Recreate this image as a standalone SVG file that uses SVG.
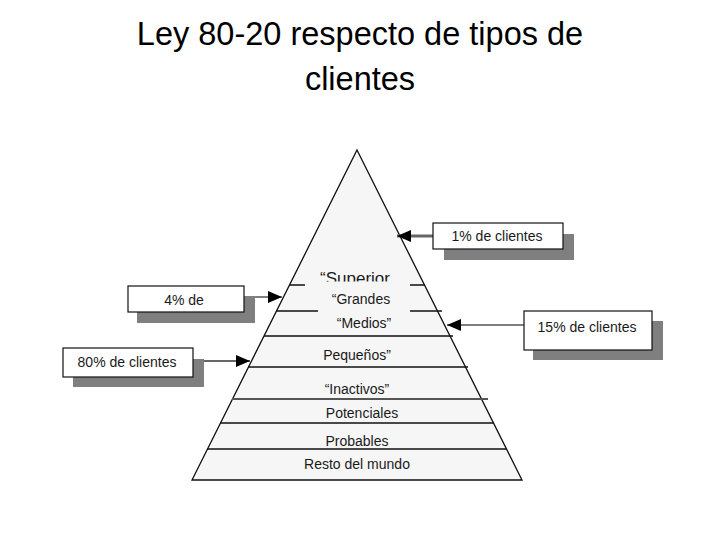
<svg xmlns="http://www.w3.org/2000/svg" width="720" height="540" viewBox="0 0 720 540">
<style>
.title{font-family:"Liberation Sans",Arial,sans-serif;font-size:32.5px;fill:#000;text-anchor:middle}
.lbl{font-family:"Liberation Sans",Arial,sans-serif;font-size:14px;fill:#1a1a1a;text-anchor:middle}
.big{font-size:17px}
.sl{stroke:#111;stroke-width:1.3;fill:none}
.box{fill:#fff;stroke:#111;stroke-width:1.2}
.shd{fill:#7f7f7f}
</style>
<defs>
<marker id="ah" viewBox="0 0 14 12" refX="14" refY="6" markerWidth="14" markerHeight="12" markerUnits="userSpaceOnUse" orient="auto">
<path d="M0,0 L14,6 L0,12 Z" fill="#000"/>
</marker>
<clipPath id="supclip"><rect x="290" y="250" width="140" height="31.5"/></clipPath>
</defs>
<rect width="720" height="540" fill="#fff"/>
<g id="title">
<text class="title" x="360" y="45">Ley 80-20 respecto de tipos de</text>
<text class="title" x="360" y="90">clientes</text>
</g>
<g id="pyramid">
<polygon points="357,150 522,480 192,480" fill="#f6f6f6" stroke="#111" stroke-width="1.3"/>
<path class="sl" d="M289,285H305M410,285H425M276,311H318M410,311H442M264,336H453M248,367H468M220,423H494M207,449H507"/>
<path d="M232,399H488" stroke="#555" stroke-width="2.2"/>
<text class="lbl big" x="355" y="284" clip-path="url(#supclip)">“Superior</text>
<text class="lbl" x="361" y="304">“Grandes</text>
<text class="lbl" x="364" y="328">“Medios”</text>
<text class="lbl" x="357" y="360">Pequeños”</text>
<text class="lbl" x="357" y="394">“Inactivos”</text>
<text class="lbl" x="362" y="418">Potenciales</text>
<text class="lbl" x="357" y="446">Probables</text>
<text class="lbl" x="357" y="469">Resto del mundo</text>
</g>
<g id="connectors">
<line x1="433" y1="236" x2="397" y2="236" stroke="#666" stroke-width="3" marker-end="url(#ah)"/>
<line x1="244" y1="297" x2="282" y2="297" stroke="#000" stroke-width="1.2" marker-end="url(#ah)"/>
<line x1="193" y1="361" x2="250" y2="361" stroke="#333" stroke-width="1.3" marker-end="url(#ah)"/>
<line x1="524" y1="325" x2="447" y2="325" stroke="#555" stroke-width="1.6" marker-end="url(#ah)"/>
</g>
<g id="box1">
<rect class="shd" x="444" y="234" width="130" height="26"/>
<rect class="box" x="433" y="223" width="130" height="26"/>
<text class="lbl" x="497" y="241">1% de clientes</text>
</g>
<g id="box4">
<rect class="shd" x="137" y="297" width="118" height="26"/>
<rect class="box" x="128" y="286" width="116" height="26"/>
<text class="lbl" x="184" y="305">4% de</text>
</g>
<g id="box80">
<rect class="shd" x="73" y="359" width="131" height="28"/>
<rect class="box" x="63" y="348" width="130" height="29"/>
<text class="lbl" x="127" y="367">80% de clientes</text>
</g>
<g id="box15">
<rect class="shd" x="533" y="321" width="130" height="39"/>
<rect class="box" x="524" y="311" width="128" height="39"/>
<text class="lbl" x="587" y="332">15% de clientes</text>
</g>
</svg>
